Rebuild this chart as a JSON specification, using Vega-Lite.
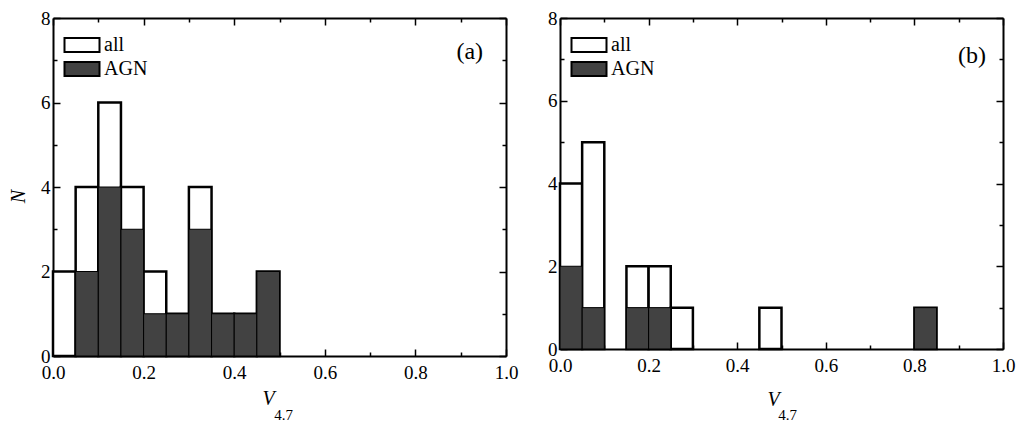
{
  "$schema": "https://vega.github.io/schema/vega-lite/v6.json",
  "background": "white",
  "padding": {"left": 8, "top": 9, "right": 5, "bottom": 5},
  "spacing": 29,
  "config": {
    "font": "Liberation Serif",
    "view": {"stroke": null},
    "axis": {
      "labelFont": "Liberation Serif",
      "labelFontSize": 19,
      "labelColor": "black",
      "labelFlush": false,
      "domainColor": "black",
      "domainWidth": 2,
      "tickColor": "black",
      "tickWidth": 1.5,
      "grid": false,
      "titleFont": "Liberation Serif",
      "titleFontWeight": "normal",
      "titleColor": "black",
      "titleFontSize": 20
    },
    "legend": {
      "labelFont": "Liberation Serif",
      "labelFontSize": 20,
      "labelColor": "black"
    }
  },
  "datasets": {
    "a": [
      {"x0": 0.0, "x1": 0.05, "n": 2, "s": "all"},
      {"x0": 0.05, "x1": 0.1, "n": 4, "s": "all"},
      {"x0": 0.1, "x1": 0.15, "n": 6, "s": "all"},
      {"x0": 0.15, "x1": 0.2, "n": 4, "s": "all"},
      {"x0": 0.2, "x1": 0.25, "n": 2, "s": "all"},
      {"x0": 0.25, "x1": 0.3, "n": 1, "s": "all"},
      {"x0": 0.3, "x1": 0.35, "n": 4, "s": "all"},
      {"x0": 0.35, "x1": 0.4, "n": 1, "s": "all"},
      {"x0": 0.4, "x1": 0.45, "n": 1, "s": "all"},
      {"x0": 0.45, "x1": 0.5, "n": 2, "s": "all"},
      {"x0": 0.05, "x1": 0.1, "n": 2, "s": "AGN"},
      {"x0": 0.1, "x1": 0.15, "n": 4, "s": "AGN"},
      {"x0": 0.15, "x1": 0.2, "n": 3, "s": "AGN"},
      {"x0": 0.2, "x1": 0.25, "n": 1, "s": "AGN"},
      {"x0": 0.25, "x1": 0.3, "n": 1, "s": "AGN"},
      {"x0": 0.3, "x1": 0.35, "n": 3, "s": "AGN"},
      {"x0": 0.35, "x1": 0.4, "n": 1, "s": "AGN"},
      {"x0": 0.4, "x1": 0.45, "n": 1, "s": "AGN"},
      {"x0": 0.45, "x1": 0.5, "n": 2, "s": "AGN"}
    ],
    "b": [
      {"x0": 0.0, "x1": 0.05, "n": 4, "s": "all"},
      {"x0": 0.05, "x1": 0.1, "n": 5, "s": "all"},
      {"x0": 0.15, "x1": 0.2, "n": 2, "s": "all"},
      {"x0": 0.2, "x1": 0.25, "n": 2, "s": "all"},
      {"x0": 0.25, "x1": 0.3, "n": 1, "s": "all"},
      {"x0": 0.45, "x1": 0.5, "n": 1, "s": "all"},
      {"x0": 0.8, "x1": 0.85, "n": 1, "s": "all"},
      {"x0": 0.0, "x1": 0.05, "n": 2, "s": "AGN"},
      {"x0": 0.05, "x1": 0.1, "n": 1, "s": "AGN"},
      {"x0": 0.15, "x1": 0.2, "n": 1, "s": "AGN"},
      {"x0": 0.2, "x1": 0.25, "n": 1, "s": "AGN"},
      {"x0": 0.8, "x1": 0.85, "n": 1, "s": "AGN"}
    ]
  },
  "resolve": {"scale": {"fill": "independent", "x": "independent", "y": "independent"}},
  "hconcat": [
    {
      "width": 453,
      "height": 338,
      "data": {"name": "a"},
      "resolve": {"axis": {"x": "independent", "y": "independent"}},
      "layer": [
        {
          "transform": [{"filter": "datum.s == 'all'"}],
          "mark": {"type": "bar", "stroke": "black", "strokeWidth": 2.5},
          "encoding": {
            "x": {"field": "x0", "type": "quantitative", "scale": {"domain": [0, 1], "nice": false, "zero": false},
              "axis": {"orient": "bottom", "values": [0, 0.1, 0.2, 0.3, 0.4, 0.5, 0.6, 0.7, 0.8, 0.9, 1.0],
                "labelFont": "Liberation Serif", "labelFontSize": 19,
                "labelExpr": "round(datum.value*10) % 2 == 0 ? format(datum.value, '.1f') : ''",
                "tickSize": {"condition": {"test": "round(datum.value*10) % 2 == 1", "value": -4}, "value": -7},
                "labelPadding": 14, "title": "V", "titleFontStyle": "italic", "titleX": 215, "titleY": 42, "titleBaseline": "middle", "titleAlign": "center"}},
            "x2": {"field": "x1"},
            "y": {"field": "n", "type": "quantitative", "scale": {"domain": [0, 8], "nice": false},
              "axis": {"orient": "left", "values": [0, 1, 2, 3, 4, 5, 6, 7, 8],
                "labelFont": "Liberation Serif", "labelFontSize": 19,
                "labelExpr": "datum.value % 2 == 0 ? datum.label : ''",
                "tickSize": {"condition": {"test": "datum.value % 2 == 1", "value": -4}, "value": -7},
                "labelPadding": 10, "title": "N", "titleFontStyle": "italic", "titlePadding": 12, "titleY": 178}},
            "y2": {"datum": 0},
            "fill": {"field": "s", "type": "nominal", "scale": {"domain": ["all", "AGN"], "range": ["white", "#424242"]},
              "legend": {"orient": "none", "legendX": 19, "legendY": 17, "title": null,
                "symbolType": "M-2.5,-1H2.5V1H-2.5Z", "symbolSize": 196, "symbolStrokeColor": "black", "symbolStrokeWidth": 2,
                "labelOffset": 12, "rowPadding": 2}}
          }
        },
        {
          "transform": [{"filter": "datum.s == 'AGN'"}],
          "mark": {"type": "bar", "stroke": "black", "strokeWidth": 1},
          "encoding": {
            "x": {"field": "x0", "type": "quantitative",
              "axis": {"orient": "top", "values": [0, 0.1, 0.2, 0.3, 0.4, 0.5, 0.6, 0.7, 0.8, 0.9, 1.0], "labels": false,
                "tickSize": {"condition": {"test": "round(datum.value*10) % 2 == 1", "value": -4}, "value": -7}, "title": null}},
            "x2": {"field": "x1"},
            "y": {"field": "n", "type": "quantitative",
              "axis": {"orient": "right", "values": [0, 1, 2, 3, 4, 5, 6, 7, 8], "labels": false,
                "tickSize": {"condition": {"test": "datum.value % 2 == 1", "value": -4}, "value": -7}, "title": null}},
            "y2": {"datum": 0},
            "fill": {"field": "s", "type": "nominal"}
          }
        },
        {
          "data": {"values": [{"label": "(a)"}]},
          "mark": {"type": "text", "fontSize": 24, "font": "Liberation Serif", "fill": "black", "fontWeight": "normal"},
          "encoding": {
            "x": {"datum": 0.92, "type": "quantitative",
              "axis": {"orient": "bottom", "domain": false, "ticks": false, "labels": false, "title": "4.7", "titleFont": "Liberation Serif", "titleFontSize": 15, "titleX": 230, "titleY": 58, "titleBaseline": "middle", "titleAlign": "center"}},
            "y": {"datum": 7.2, "type": "quantitative", "axis": null},
            "text": {"field": "label"}
          }
        }
      ]
    },
    {
      "width": 443,
      "height": 331,
      "data": {"name": "b"},
      "resolve": {"axis": {"x": "independent", "y": "independent"}},
      "layer": [
        {
          "transform": [{"filter": "datum.s == 'all'"}],
          "mark": {"type": "bar", "stroke": "black", "strokeWidth": 2.5},
          "encoding": {
            "x": {"field": "x0", "type": "quantitative", "scale": {"domain": [0, 1], "nice": false, "zero": false},
              "axis": {"orient": "bottom", "values": [0, 0.1, 0.2, 0.3, 0.4, 0.5, 0.6, 0.7, 0.8, 0.9, 1.0],
                "labelFont": "Liberation Serif", "labelFontSize": 19,
                "labelExpr": "round(datum.value*10) % 2 == 0 ? format(datum.value, '.1f') : ''",
                "tickSize": {"condition": {"test": "round(datum.value*10) % 2 == 1", "value": -4}, "value": -7},
                "labelPadding": 14, "title": "V", "titleFontStyle": "italic", "titleX": 213, "titleY": 50, "titleBaseline": "middle", "titleAlign": "center"}},
            "x2": {"field": "x1"},
            "y": {"field": "n", "type": "quantitative", "scale": {"domain": [0, 8], "nice": false},
              "axis": {"orient": "left", "values": [0, 1, 2, 3, 4, 5, 6, 7, 8],
                "labelFont": "Liberation Serif", "labelFontSize": 19,
                "labelExpr": "datum.value % 2 == 0 ? datum.label : ''",
                "tickSize": {"condition": {"test": "datum.value % 2 == 1", "value": -4}, "value": -7},
                "labelPadding": 10, "title": null}},
            "y2": {"datum": 0},
            "fill": {"field": "s", "type": "nominal", "scale": {"domain": ["all", "AGN"], "range": ["white", "#424242"]},
              "legend": {"orient": "none", "legendX": 19, "legendY": 17, "title": null,
                "symbolType": "M-2.5,-1H2.5V1H-2.5Z", "symbolSize": 196, "symbolStrokeColor": "black", "symbolStrokeWidth": 2,
                "labelOffset": 12, "rowPadding": 2}}
          }
        },
        {
          "transform": [{"filter": "datum.s == 'AGN'"}],
          "mark": {"type": "bar", "stroke": "black", "strokeWidth": 1},
          "encoding": {
            "x": {"field": "x0", "type": "quantitative",
              "axis": {"orient": "top", "values": [0, 0.1, 0.2, 0.3, 0.4, 0.5, 0.6, 0.7, 0.8, 0.9, 1.0], "labels": false,
                "tickSize": {"condition": {"test": "round(datum.value*10) % 2 == 1", "value": -4}, "value": -7}, "title": null}},
            "x2": {"field": "x1"},
            "y": {"field": "n", "type": "quantitative",
              "axis": {"orient": "right", "values": [0, 1, 2, 3, 4, 5, 6, 7, 8], "labels": false,
                "tickSize": {"condition": {"test": "datum.value % 2 == 1", "value": -4}, "value": -7}, "title": null}},
            "y2": {"datum": 0},
            "fill": {"field": "s", "type": "nominal"}
          }
        },
        {
          "data": {"values": [{"label": "(b)"}]},
          "mark": {"type": "text", "fontSize": 24, "font": "Liberation Serif", "fill": "black", "fontWeight": "normal"},
          "encoding": {
            "x": {"datum": 0.93, "type": "quantitative",
              "axis": {"orient": "bottom", "domain": false, "ticks": false, "labels": false, "title": "4.7", "titleFont": "Liberation Serif", "titleFontSize": 15, "titleX": 227, "titleY": 65, "titleBaseline": "middle", "titleAlign": "center"}},
            "y": {"datum": 7.08, "type": "quantitative", "axis": null},
            "text": {"field": "label"}
          }
        }
      ]
    }
  ]
}
